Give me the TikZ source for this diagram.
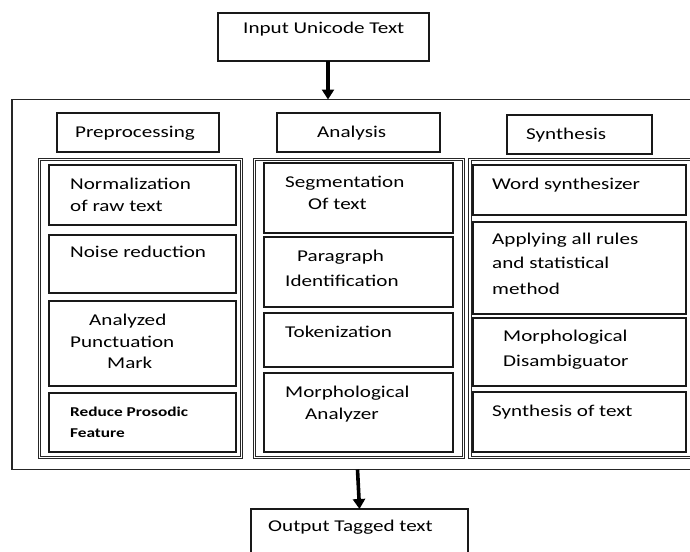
\documentclass[tikz,border=0pt]{standalone}
\usepackage{fontspec}
\setmainfont{Carlito}[FakeStretch=1.28]
\usetikzlibrary{arrows.meta}
\tikzset{
  frame/.style={draw=black!85, line width=1.6pt, inner sep=0pt, outer sep=0pt},
  hdrbox/.style={draw=black!90, line width=1.8pt, inner sep=0pt, outer sep=0pt},
  colbox/.style={draw=black!85, double=white, double distance=1.6pt, line width=1.1pt, inner sep=0pt, outer sep=0pt},
  stepbox/.style={draw=black!90, line width=2.1pt, inner sep=0pt, outer sep=0pt},
  iobox/.style={draw=black!90, line width=1.6pt, inner sep=0pt, outer sep=0pt},
  txt/.style={anchor=base west, inner sep=0pt, font=\fontsize{16.5}{20}\selectfont},
  smalltxt/.style={anchor=base west, inner sep=0pt, font=\fontsize{13.5}{16}\selectfont\bfseries},
  arr/.style={line width=3.6pt, -{Triangle[width=12pt,length=10pt]}}
}
\newcommand\mybox[6]{\node[#1, minimum width={#4-#2}, minimum height={#5-#3}] (#6) at ({(#2+#4)/2},{(#3+#5)/2}) {};}
\newcommand\mytl[5][txt]{\node[#1] (#2) at (#3,#4) {#5};}
\begin{document}
\begin{tikzpicture}[x=1pt,y=-1pt]
\useasboundingbox (0,0) rectangle (690,551);
\fill[white] (0,0) rectangle (690,551);
\clip (0,0) rectangle (690,551);
% top and bottom boxes
\mybox{iobox}{218}{13}{429}{61}{inp}
\mytl{tinp}{243}{34}{Input Unicode Text}
\mybox{frame}{12}{99.5}{740}{469.5}{outer}
\mybox{iobox}{251}{509}{468}{600}{out}
\mytl{tout}{268}{531}{Output Tagged text}
% headers
\mybox{hdrbox}{57}{113}{219}{152}{hpre}
\mybox{hdrbox}{277}{113}{440}{152}{hana}
\mybox{hdrbox}{507}{115}{652}{154}{hsyn}
\mytl{thpre}{75}{137}{Preprocessing}
\mytl{thana}{317}{137}{Analysis}
\mytl{thsyn}{526}{139}{Synthesis}
% columns
\mybox{colbox}{39.5}{159.5}{241.5}{457.5}{cpre}
\mybox{colbox}{254.5}{159.5}{463.5}{457.5}{cana}
\mybox{colbox}{470}{159.5}{720}{457.5}{csyn}
% preprocessing steps
\mybox{stepbox}{49}{165}{236}{225}{p1}
\mybox{stepbox}{49}{235}{236}{293}{p2}
\mybox{stepbox}{49}{301}{236}{386}{p3}
\mybox{stepbox}{49}{393}{236}{452}{p4}
\mytl{p1a}{70}{189}{Normalization}
\mytl{p1b}{70}{211}{of raw text}
\mytl{p2a}{70}{257}{Noise reduction}
\mytl{p3a}{89}{325}{Analyzed}
\mytl{p3b}{70}{347}{Punctuation}
\mytl{p3c}{107}{368}{Mark}
\mytl[smalltxt]{p4a}{70}{416}{Reduce Prosodic}
\mytl[smalltxt]{p4b}{70}{437}{Feature}
% analysis steps
\mybox{stepbox}{264}{163}{453}{233}{a1}
\mybox{stepbox}{264}{237}{453}{307}{a2}
\mybox{stepbox}{264}{313}{453}{367}{a3}
\mybox{stepbox}{264}{373}{453}{452}{a4}
\mytl{a1a}{285}{187}{Segmentation}
\mytl{a1b}{308}{209}{Of text}
\mytl{a2a}{297}{261}{Paragraph}
\mytl{a2b}{285}{286}{Identification}
\mytl{a3a}{285}{337}{Tokenization}
\mytl{a4a}{285}{397}{Morphological}
\mytl{a4b}{305}{419}{Analyzer}
% synthesis steps
\mybox{stepbox}{473}{165}{686}{215}{s1}
\mybox{stepbox}{473}{222}{686}{314}{s2}
\mybox{stepbox}{473}{318}{686}{386}{s3}
\mybox{stepbox}{473}{392}{686}{452}{s4}
\mytl{s1a}{492}{189}{Word synthesizer}
\mytl{s2a}{492}{244}{Applying all rules}
\mytl{s2b}{492}{268}{and statistical}
\mytl{s2c}{492}{294}{method}
\mytl{s3a}{503}{341}{Morphological}
\mytl{s3b}{503}{366}{Disambiguator}
\mytl{s4a}{492}{416}{Synthesis of text}
% arrows
\draw[arr] ([xshift=4.5pt]inp.south) -- ([xshift=4.5pt]inp.south |- outer.north);
\draw[arr] ([xshift=-2pt]out.north |- outer.south) -- (out.north);
\end{tikzpicture}
\end{document}
